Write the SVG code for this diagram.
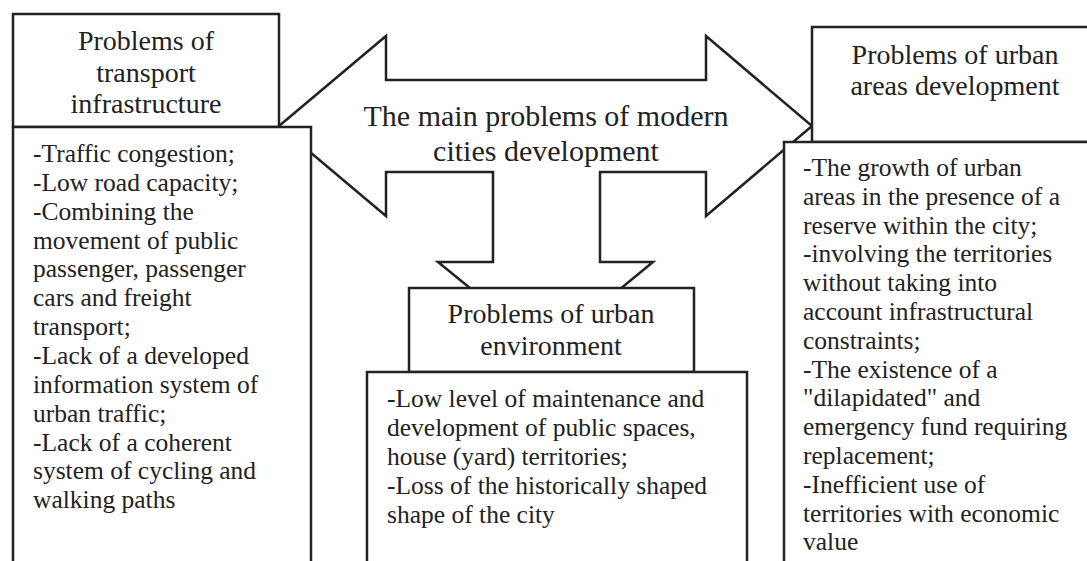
<svg xmlns="http://www.w3.org/2000/svg" width="1087" height="561" viewBox="0 0 1087 561">
<style>
.box{fill:#fff;stroke:#222;stroke-width:2.5}
.arr{fill:#fff;stroke:#222;stroke-width:2.5;stroke-linejoin:miter}
text{font-family:"Liberation Serif","Times New Roman",serif;fill:#222}
.t{font-size:28px;text-anchor:middle}
.c{font-size:30px;text-anchor:middle}
.b{font-size:25.5px}
</style>
<rect width="1087" height="561" fill="#fff"/>
<g id="connectors">
<polygon class="arr" points="279,126 386,36 386,80 706,80 706,36 812,126 706,216 706,172 600,172 600,262 653,262 546,350 438,262 493,262 493,172 386,172 386,216"/>
</g>
<g id="main">
<text class="c" x="546" y="126">The main problems of modern</text>
<text class="c" x="546" y="161">cities development</text>
</g>
<g id="transport">
<rect class="box" x="13" y="14" width="266" height="113"/>
<text class="t" x="146" y="50">Problems of</text>
<text class="t" x="146" y="81.5">transport</text>
<text class="t" x="146" y="113">infrastructure</text>
<rect class="box" x="13" y="127" width="298" height="450"/>
<text class="b" x="33" y="162">-Traffic congestion;</text>
<text class="b" x="33" y="190.85">-Low road capacity;</text>
<text class="b" x="33" y="219.7">-Combining the</text>
<text class="b" x="33" y="248.55">movement of public</text>
<text class="b" x="33" y="277.4">passenger, passenger</text>
<text class="b" x="33" y="306.25">cars and freight</text>
<text class="b" x="33" y="335.1">transport;</text>
<text class="b" x="33" y="363.95">-Lack of a developed</text>
<text class="b" x="33" y="392.8">information system of</text>
<text class="b" x="33" y="421.65">urban traffic;</text>
<text class="b" x="33" y="450.5">-Lack of a coherent</text>
<text class="b" x="33" y="479.35">system of cycling and</text>
<text class="b" x="33" y="508.2">walking paths</text>
</g>
<g id="environment">
<rect class="box" x="409" y="288" width="285" height="84"/>
<text class="t" x="551" y="323">Problems of urban</text>
<text class="t" x="551" y="355">environment</text>
<rect class="box" x="367" y="372" width="380" height="210"/>
<text class="b" x="387" y="407">-Low level of maintenance and</text>
<text class="b" x="387" y="436">development of public spaces,</text>
<text class="b" x="387" y="465">house (yard) territories;</text>
<text class="b" x="387" y="494">-Loss of the historically shaped</text>
<text class="b" x="387" y="523">shape of the city</text>
</g>
<g id="areas">
<rect class="box" x="812" y="27" width="290" height="115"/>
<text class="t" x="955" y="64">Problems of urban</text>
<text class="t" x="955" y="95">areas development</text>
<rect class="box" x="784" y="142" width="320" height="440"/>
<text class="b" x="803" y="176">-The growth of urban</text>
<text class="b" x="803" y="204.8">areas in the presence of a</text>
<text class="b" x="803" y="233.6">reserve within the city;</text>
<text class="b" x="803" y="262.4">-involving the territories</text>
<text class="b" x="803" y="291.2">without taking into</text>
<text class="b" x="803" y="320">account infrastructural</text>
<text class="b" x="803" y="348.8">constraints;</text>
<text class="b" x="803" y="377.6">-The existence of a</text>
<text class="b" x="803" y="406.4">"dilapidated" and</text>
<text class="b" x="803" y="435.2">emergency fund requiring</text>
<text class="b" x="803" y="464">replacement;</text>
<text class="b" x="803" y="492.8">-Inefficient use of</text>
<text class="b" x="803" y="521.6">territories with economic</text>
<text class="b" x="803" y="550.4">value</text>
</g>
</svg>
